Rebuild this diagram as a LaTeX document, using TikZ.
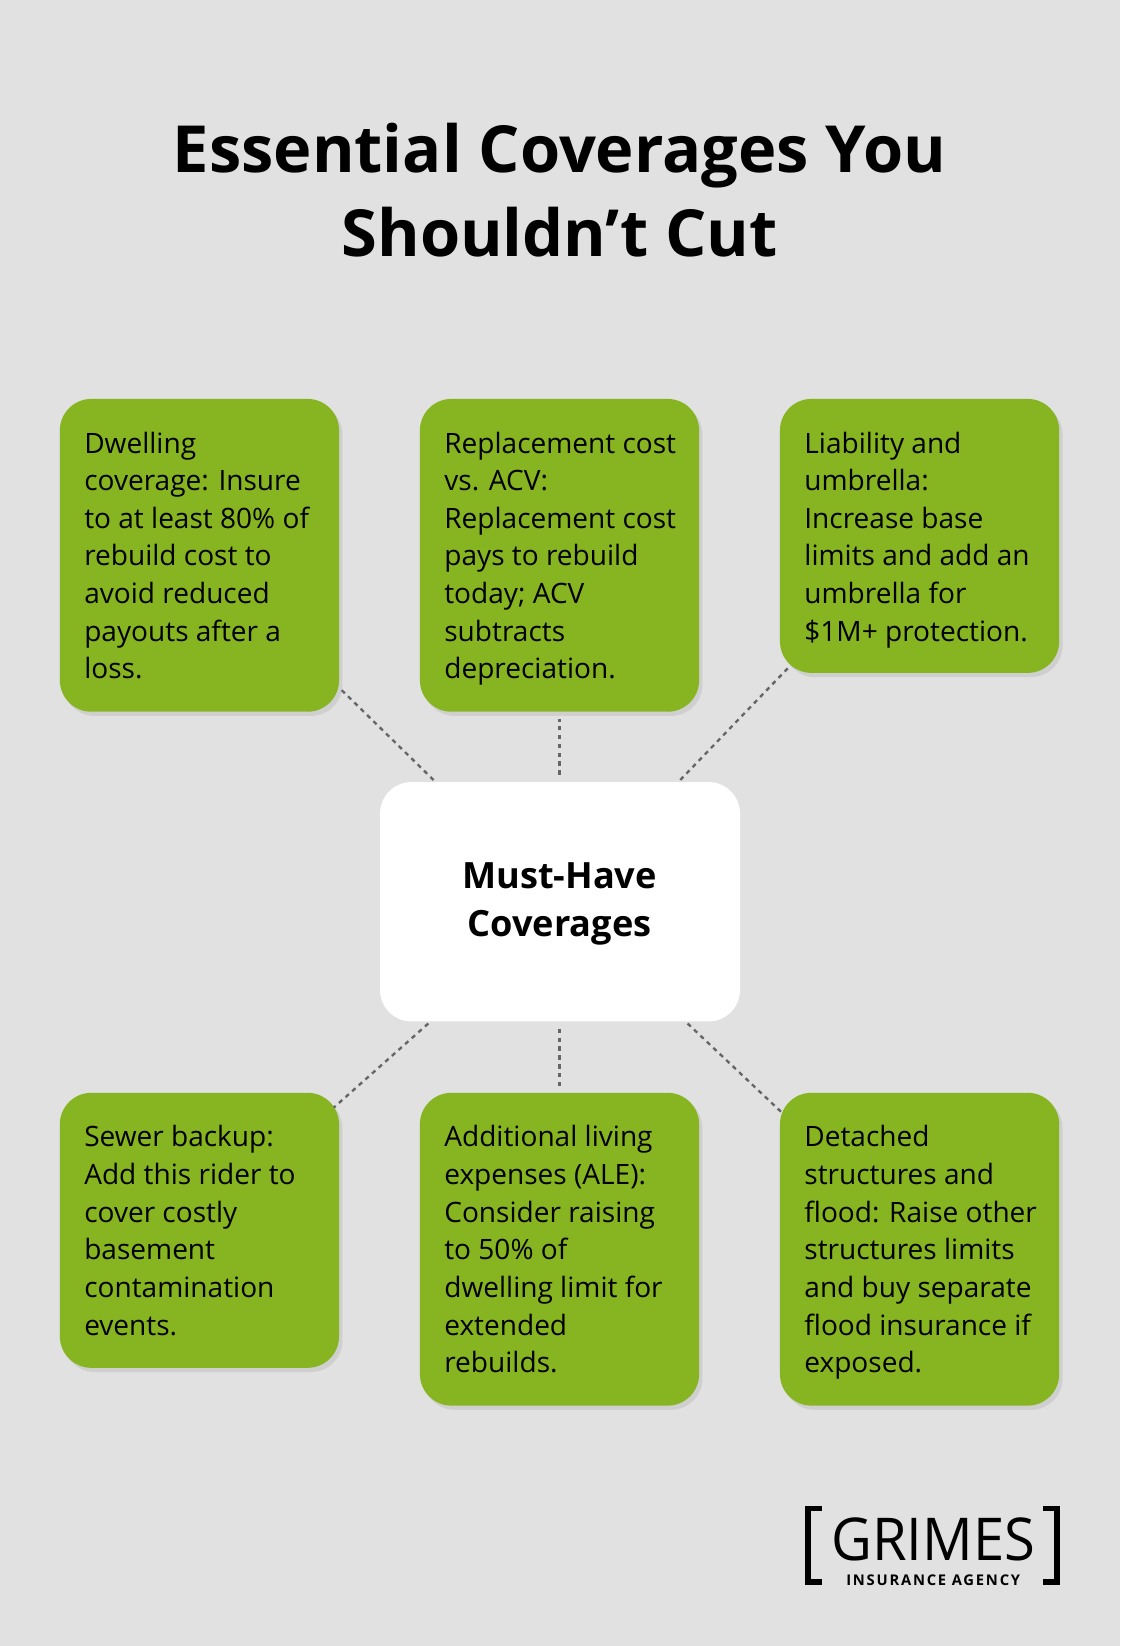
\documentclass[tikz,border=0pt]{standalone}
\usepackage{fontspec}
\setmainfont{Open Sans}
\usetikzlibrary{positioning,shadows}
\definecolor{bggray}{HTML}{E0E1E0}
\definecolor{leafgreen}{HTML}{86B521}
\definecolor{dotgray}{HTML}{666666}
\tikzset{
  card/.style={fill=leafgreen,rounded corners=0.75cm,drop shadow={opacity=0.18,shadow xshift=0.08cm,shadow yshift=-0.1cm}},
  cardtext/.style={anchor=north west,align=left,inner sep=0pt,font=\fontsize{19}{25.5}\selectfont},
  link/.style={dotgray,line width=1.6pt,dash pattern=on 3pt off 3pt}
}
\begin{document}
\begin{tikzpicture}[x=0.025cm,y=-0.025cm]
\fill[bggray] (0,0) rectangle (1067,1568);
\useasboundingbox (0,0) rectangle (1067,1568);

\node[font=\bfseries\fontsize{44}{57}\selectfont,align=center] (title) at (533,181) {Essential Coverages You\\Shouldn’t Cut};

% cards, top row
\fill[card] (57,380) rectangle (323,678);
\fill[card] (400,380) rectangle (666,678);
\fill[card] (743,380) rectangle (1009,641);
% cards, bottom row
\fill[card] (57,1041) rectangle (323,1303);
\fill[card] (400,1041) rectangle (666,1339);
\fill[card] (743,1041) rectangle (1009,1339);

\node[cardtext] (dwell) at (80,411) {Dwelling\\coverage: Insure\\to at least 80\% of\\rebuild cost to\\avoid reduced\\payouts after a\\loss.};
\node[cardtext] (acv) at (423,411) {Replacement cost\\vs. ACV:\\Replacement cost\\pays to rebuild\\today; ACV\\subtracts\\depreciation.};
\node[cardtext] (liab) at (766,411) {Liability and\\umbrella:\\Increase base\\limits and add an\\umbrella for\\\$1M+ protection.};
\node[cardtext] (sewer) at (80,1072) {Sewer backup:\\Add this rider to\\cover costly\\basement\\contamination\\events.};
\node[cardtext] (ale) at (423,1072) {Additional living\\expenses (ALE):\\Consider raising\\to 50\% of\\dwelling limit for\\extended\\rebuilds.};
\node[cardtext] (flood) at (766,1072) {Detached\\structures and\\flood: Raise other\\structures limits\\and buy separate\\flood insurance if\\exposed.};

% centre
\fill[white,rounded corners=0.75cm] (362,745) rectangle (705,973);
\node[font=\bfseries\fontsize{24.5}{33}\selectfont,align=center] (hub) at (533,861) {Must-Have\\Coverages};

% link ends
\coordinate (c1) at (413,743); \coordinate (e1) at (323,655);
\coordinate (c2) at (533,738); \coordinate (e2) at (533,685);
\coordinate (c3) at (648,743); \coordinate (e3) at (752,635);
\coordinate (c4) at (408,975); \coordinate (e4) at (318,1055);
\coordinate (c5) at (533,980); \coordinate (e5) at (533,1035);
\coordinate (c6) at (655,975); \coordinate (e6) at (745,1060);
\foreach \i in {1,...,6}
  \draw[link] (c\i) -- (e\i);

% logo
\draw[line width=4pt] (783,1437) -- (770,1437) -- (770,1507) -- (783,1507);
\draw[line width=4pt] (994,1437) -- (1007,1437) -- (1007,1507) -- (994,1507);
\node[font=\fontsize{40}{40}\selectfont,xscale=0.95] (logo) at (889,1466) {GRIMES};
\node[font=\bfseries\fontsize{10}{10}\selectfont\addfontfeatures{LetterSpace=12}] (agency) at (889,1505) {INSURANCE AGENCY};
\end{tikzpicture}
\end{document}
